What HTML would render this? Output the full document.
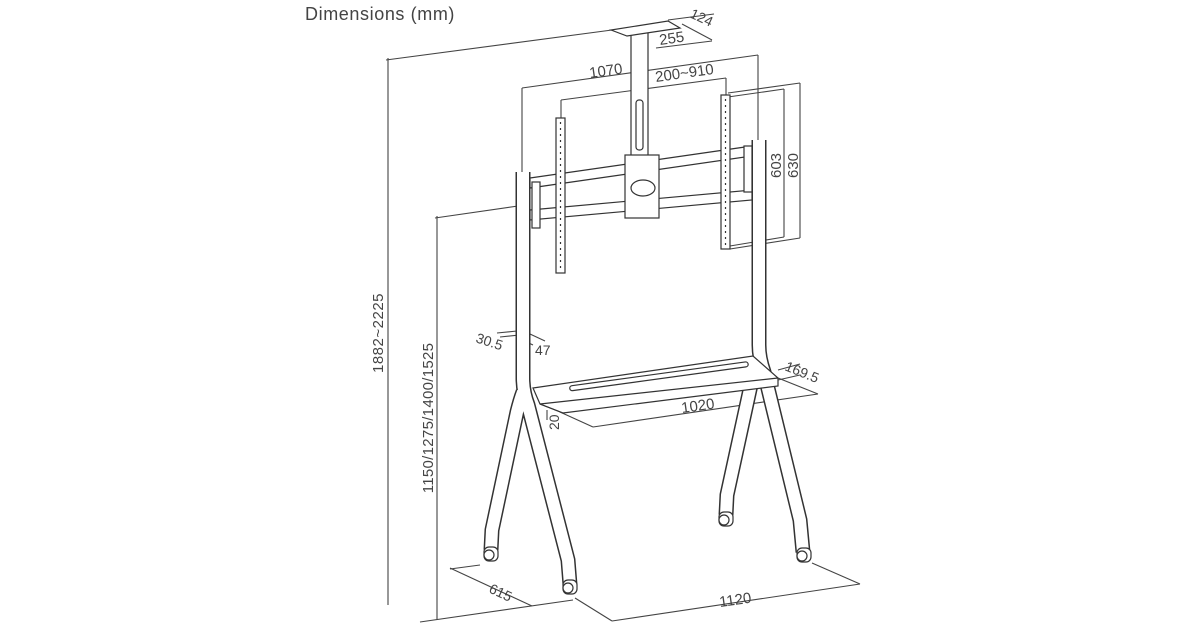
<!DOCTYPE html>
<html><head><meta charset="utf-8"><style>
html,body{margin:0;padding:0;background:#fff;}
svg{display:block;}
text{font-family:"Liberation Sans",sans-serif;fill:#444;}
</style></head><body>
<svg width="1200" height="630" viewBox="0 0 1200 630" xmlns="http://www.w3.org/2000/svg">
<text x="305" y="20" font-size="18" letter-spacing="0.6">Dimensions (mm)</text>
<g fill="none" stroke="#444" stroke-width="1.1">
 <line x1="388" y1="58" x2="388" y2="605"/>
 <line x1="386" y1="60" x2="612" y2="30"/>
 <line x1="437" y1="216" x2="437" y2="620"/>
 <line x1="435" y1="218" x2="518" y2="206"/>
 <line x1="420" y1="622" x2="573" y2="600"/>
 <line x1="450" y1="568" x2="532" y2="606"/>
 <line x1="480" y1="565" x2="450" y2="569"/>
 <line x1="575" y1="598" x2="612" y2="621"/>
 <line x1="612" y1="621" x2="860" y2="584"/>
 <line x1="812" y1="563" x2="860" y2="584"/>
 <line x1="560" y1="412" x2="593" y2="427"/>
 <line x1="593" y1="427" x2="818" y2="394"/>
 <line x1="778" y1="378" x2="818" y2="394"/>
 <line x1="778" y1="370" x2="800" y2="364"/>
 <line x1="778" y1="380" x2="800" y2="375"/>
 <line x1="547" y1="410" x2="547" y2="420"/>
 <line x1="497" y1="333" x2="517" y2="331"/>
 <line x1="500" y1="337" x2="529" y2="334"/>
 <line x1="530" y1="334" x2="545" y2="341"/>
 <line x1="516" y1="337" x2="533" y2="345"/>
 <line x1="522" y1="88" x2="758" y2="55"/>
 <line x1="522" y1="88" x2="522" y2="172"/>
 <line x1="758" y1="55" x2="758" y2="140"/>
 <line x1="561" y1="100" x2="726" y2="78"/>
 <line x1="561" y1="100" x2="561" y2="118"/>
 <line x1="726" y1="78" x2="726" y2="95"/>
 <line x1="728" y1="93" x2="800" y2="83"/>
 <line x1="728" y1="97" x2="784" y2="89"/>
 <line x1="730" y1="246" x2="784" y2="237"/>
 <line x1="730" y1="249" x2="800" y2="238"/>
 <line x1="784" y1="89" x2="784" y2="237"/>
 <line x1="800" y1="83" x2="800" y2="238"/>
 <line x1="668" y1="20" x2="714" y2="14"/>
 <line x1="682" y1="24" x2="712" y2="40"/>
 <line x1="656" y1="48" x2="712" y2="41"/>
</g>
<g fill="none" stroke-linejoin="round" stroke-linecap="butt">
 <g stroke="#333" stroke-width="15">
  <path d="M523 172 L523 378 Q523 392 528 405 L568 560 L570 585"/>
  <path d="M523 392 Q520 400 517 412 L492 530 L491 550"/>
  <path d="M759 140 L759 345 Q759 358 764 372 L800 520 L803 552"/>
  <path d="M759 358 Q756 368 752 380 L727 495 L726 515"/>
 </g>
 <g stroke="#fff" stroke-width="12">
  <path d="M523 172 L523 378 Q523 392 528 405 L568 560 L570 585"/>
  <path d="M523 392 Q520 400 517 412 L492 530 L491 550"/>
  <path d="M759 140 L759 345 Q759 358 764 372 L800 520 L803 552"/>
  <path d="M759 358 Q756 368 752 380 L727 495 L726 515"/>
 </g>
</g>
<g fill="#fff" stroke="#333" stroke-width="1.2">
 <rect x="484" y="547" width="14" height="14" rx="5"/><circle cx="489" cy="555" r="5"/>
 <rect x="563" y="580" width="14" height="14" rx="5"/><circle cx="568" cy="588" r="5"/>
 <rect x="719" y="512" width="14" height="14" rx="5"/><circle cx="724" cy="520" r="5"/>
 <rect x="797" y="548" width="14" height="14" rx="5"/><circle cx="802" cy="556" r="5"/>
 <polygon points="533,388 753,356 778,378 778,386 563,413 540,404"/>
 <line x1="540" y1="404" x2="778" y2="378"/>
 <line x1="540" y1="404" x2="563" y2="413"/>
 <rect x="570" y="386" width="180" height="5" rx="2.5" transform="rotate(-7.8 570 390)"/>
 <polygon points="530,178 752,146 752,156 530,188"/>
 <polygon points="530,210 752,190 752,200 530,220"/>
 <rect x="532" y="182" width="8" height="46" />
 <rect x="744" y="146" width="8" height="46" />
 <rect x="631" y="32" width="17" height="126"/>
 <rect x="636" y="100" width="7" height="50" rx="3"/>
 <polygon points="611,30 627,36 680,28 668,21"/>
 <rect x="625" y="155" width="34" height="63"/>
 <ellipse cx="643" cy="188" rx="12" ry="8"/>
 <rect x="556" y="118" width="9" height="155"/>
 <rect x="721" y="95" width="9" height="154"/>
 <line x1="560.5" y1="122" x2="560.5" y2="268" stroke-dasharray="2 4"/>
 <line x1="725.5" y1="99" x2="725.5" y2="245" stroke-dasharray="2 4"/>
</g>
<g font-size="15">
 <text transform="translate(383,333) rotate(-90)" text-anchor="middle" letter-spacing="0.5">1882~2225</text>
 <text transform="translate(433,418) rotate(-90)" text-anchor="middle" letter-spacing="0.3">1150/1275/1400/1525</text>
 <text transform="translate(488,592) rotate(25)" font-size="14">615</text>
 <text transform="translate(720,607) rotate(-8)">1120</text>
 <text transform="translate(682,413) rotate(-8)">1020</text>
 <text transform="translate(784,370) rotate(22)" font-size="14">169.5</text>
 <text transform="translate(559,430) rotate(-90)" font-size="14">20</text>
 <text transform="translate(475,342) rotate(18)" font-size="14">30.5</text>
 <text x="535" y="355" font-size="14">47</text>
 <text transform="translate(590,78) rotate(-8)">1070</text>
 <text transform="translate(656,82) rotate(-8)">200~910</text>
 <text transform="translate(781,178) rotate(-90)">603</text>
 <text transform="translate(798,178) rotate(-90)">630</text>
 <text transform="translate(689,17) rotate(25)" font-size="14">124</text>
 <text transform="translate(660,45) rotate(-8)">255</text>
</g>
</svg>
</body></html>
